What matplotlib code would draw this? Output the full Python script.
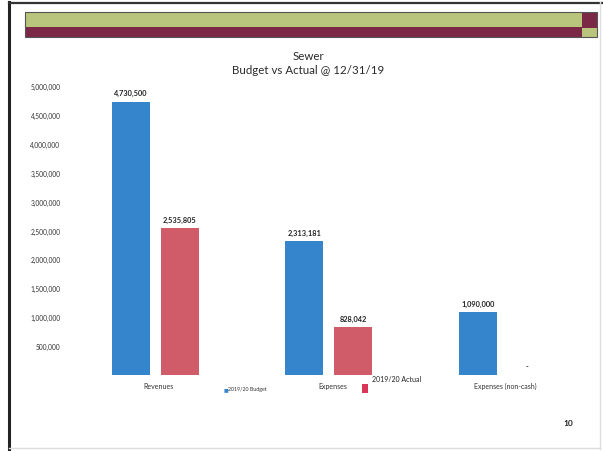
import matplotlib
matplotlib.use("Agg")
import matplotlib.pyplot as plt
from matplotlib.patches import Rectangle
from matplotlib.lines import Line2D
import numpy as np

categories = ["Revenues", "Expenses", "Expenses (non-cash)"]
budget = [4730500, 2313181, 1090000]
actual = [2535805, 828042, 0]
budget_labels = ["4,730,500", "2,313,181", "1,090,000"]
actual_labels = ["2,535,805", "828,042", "-"]
yticks = [500000, 1000000, 1500000, 2000000, 2500000, 3000000, 3500000, 4000000, 4500000, 5000000]

plt.rcParams['font.family'] = ['Lato', 'DejaVu Sans']

W, H = 603, 452
fig = plt.figure(figsize=(W / 100, H / 100), dpi=100)

def fx(px):
    return px / W

def fy(py):
    return 1 - py / H

# slide border
fig.add_artist(Line2D([fx(9), fx(9)], [fy(3), fy(452)], color="#222222", lw=2.2, transform=fig.transFigure))
fig.add_artist(Line2D([fx(9), fx(603)], [fy(3.5), fy(3.5)], color="#333333", lw=1.6, transform=fig.transFigure))
fig.add_artist(Line2D([fx(600), fx(600)], [fy(3), fy(450)], color="#dddddd", lw=1.0, transform=fig.transFigure))
fig.add_artist(Line2D([fx(9), fx(600)], [fy(449), fy(449)], color="#dddddd", lw=1.0, transform=fig.transFigure))

# banner
green = "#b9c57c"
maroon = "#7b2846"
fig.add_artist(Rectangle((fx(25), fy(28)), fx(582) - fx(25), fy(13) - fy(28), facecolor=green, edgecolor="none", transform=fig.transFigure))
fig.add_artist(Rectangle((fx(25), fy(38)), fx(582) - fx(25), fy(28) - fy(38), facecolor=maroon, edgecolor="none", transform=fig.transFigure))
fig.add_artist(Rectangle((fx(582), fy(29)), fx(597) - fx(582), fy(13) - fy(29), facecolor=maroon, edgecolor="none", transform=fig.transFigure))
fig.add_artist(Rectangle((fx(582), fy(38)), fx(597) - fx(582), fy(29) - fy(38), facecolor=green, edgecolor="none", transform=fig.transFigure))
fig.add_artist(Rectangle((fx(25), fy(38)), fx(597) - fx(25), fy(13) - fy(38), facecolor="none", edgecolor="#555555", lw=0.8, transform=fig.transFigure))

# title
fig.text(fx(308), fy(56), "Sewer", ha="center", va="center", fontsize=8.3, color="#2a2a2a")
fig.text(fx(308), fy(71), "Budget vs Actual @ 12/31/19", ha="center", va="center", fontsize=8.3, color="#2a2a2a")

# axes
left, right, top, bottom = 68.75, 589, 87, 376
ax = fig.add_axes([fx(left), fy(bottom), fx(right) - fx(left), (bottom - top) / H])
x = np.arange(len(categories))
off = 0.141
w = 0.22
blue = "#3585cc"
red = "#cf5c68"
ax.bar(x - off, budget, width=w, color=blue)
ax.bar(x + off, actual, width=w, color=red)
for i in range(len(categories)):
    ax.annotate(budget_labels[i], (x[i] - off, budget[i]), xytext=(0, 6.5), textcoords="offset points",
                ha="center", va="center", fontsize=5.3, fontweight="bold", color="#222222")
    ax.annotate(actual_labels[i], (x[i] + off, actual[i]), xytext=(0, 6.5), textcoords="offset points",
                ha="center", va="center", fontsize=5.3, fontweight="bold", color="#222222")
ax.set_xlim(-0.5, 2.5)
ax.set_ylim(0, 5000000)
ax.set_yticks(yticks)
ax.set_yticklabels([f"{v:,}" for v in yticks], fontsize=4.8, color="#333333")
ax.set_xticks(x + 0.02)
ax.set_xticklabels(categories, fontsize=5, color="#333333")
ax.tick_params(axis="both", length=0)
ax.tick_params(axis="y", pad=6)
ax.tick_params(axis="x", pad=5)
for s in ax.spines.values():
    s.set_visible(False)
ax.set_facecolor("none")

# legend (scattered as in the scan)
fig.text(fx(224), fy(390), "\u25a0", ha="left", va="center", fontsize=3.6, color=blue)
fig.text(fx(228), fy(390), "2019/20 Budget", ha="left", va="center", fontsize=3.8, color="#333333")
fig.add_artist(Rectangle((fx(362), fy(394)), fx(368) - fx(362), fy(385) - fy(394), facecolor="#d9365a", edgecolor="none", transform=fig.transFigure))
fig.text(fx(372), fy(380), "2019/20 Actual", ha="left", va="center", fontsize=5, color="#222222")

# page number
fig.text(fx(568), fy(424), "10", ha="center", va="center", fontsize=6, fontweight="bold", color="#222222")

fig.savefig("out.png", dpi=100)
